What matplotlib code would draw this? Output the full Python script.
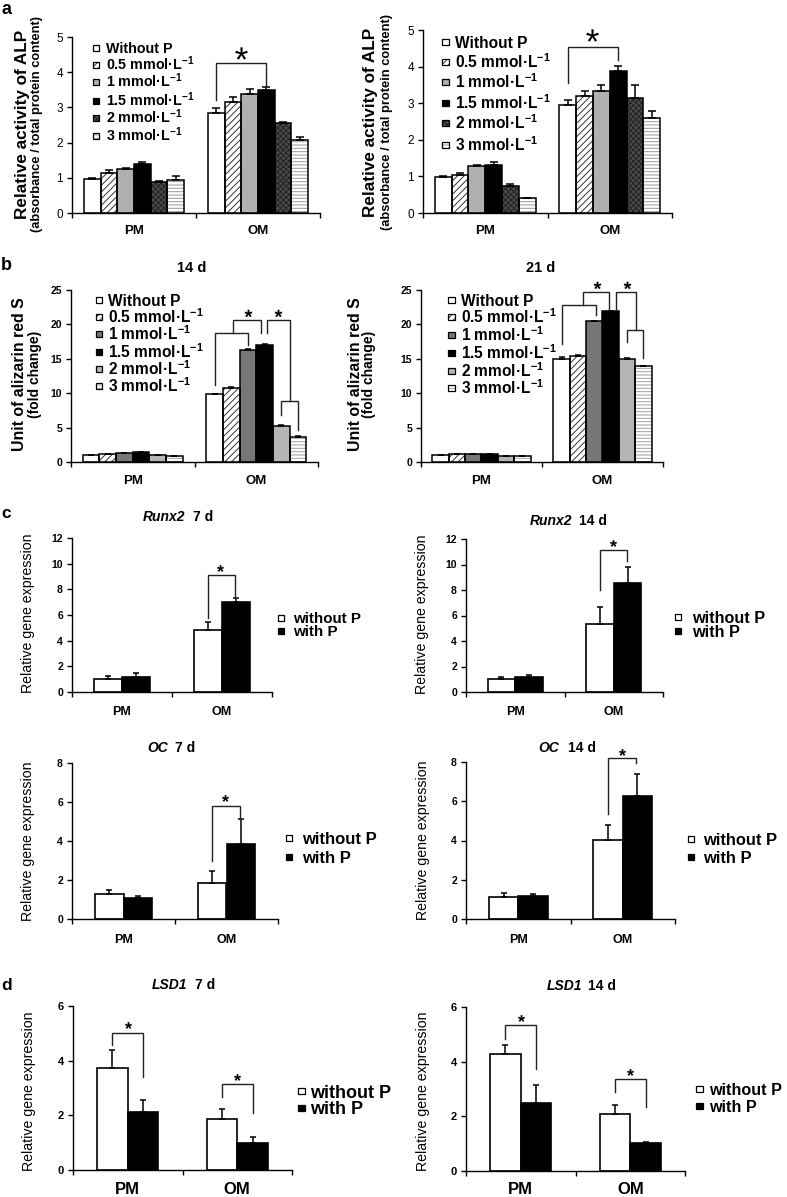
import numpy as np
import matplotlib
matplotlib.use('Agg')
import matplotlib.pyplot as plt
from matplotlib.patches import Rectangle

plt.rcParams['font.family'] = ['Liberation Sans', 'DejaVu Sans']
plt.rcParams['mathtext.fontset'] = 'custom'
plt.rcParams['mathtext.rm'] = 'Liberation Sans'
plt.rcParams['mathtext.it'] = 'Liberation Sans:italic:bold'
plt.rcParams['mathtext.bf'] = 'Liberation Sans:bold'
plt.rcParams['mathtext.default'] = 'bf'
plt.rcParams['hatch.linewidth'] = 0.7

# ------------------------------------------------------------------ data
groups = ['PM', 'OM']
conc_labels = ['Without P', '0.5 mmol·L$^{-1}$', '1 mmol·L$^{-1}$',
               '1.5 mmol·L$^{-1}$', '2 mmol·L$^{-1}$', '3 mmol·L$^{-1}$']
p_labels = ['without P', 'with P']

# (a) relative ALP activity
alp1_pm = [0.98, 1.15, 1.24, 1.39, 0.88, 0.93]
alp1_pm_err = [0.02, 0.08, 0.05, 0.05, 0.02, 0.13]
alp1_om = [2.84, 3.16, 3.38, 3.50, 2.56, 2.06]
alp1_om_err = [0.13, 0.14, 0.13, 0.08, 0.03, 0.11]
alp2_pm = [0.99, 1.05, 1.29, 1.32, 0.74, 0.40]
alp2_pm_err = [0.03, 0.04, 0.03, 0.06, 0.04, 0.0]
alp2_om = [2.95, 3.19, 3.34, 3.87, 3.13, 2.60]
alp2_om_err = [0.15, 0.15, 0.16, 0.16, 0.37, 0.18]

# (b) alizarin red S
ars14_pm = [1.0, 1.2, 1.3, 1.4, 1.0, 0.9]
ars14_pm_err = [0.02, 0.02, 0.02, 0.02, 0.02, 0.02]
ars14_om = [9.9, 10.8, 16.3, 17.0, 5.3, 3.7]
ars14_om_err = [0.05, 0.1, 0.1, 0.1, 0.05, 0.05]
ars21_pm = [1.0, 1.15, 1.15, 1.15, 0.9, 0.8]
ars21_pm_err = [0.05, 0.03, 0.02, 0.02, 0.03, 0.02]
ars21_om = [15.0, 15.4, 20.5, 21.9, 14.9, 13.9]
ars21_om_err = [0.25, 0.1, 0.05, 0.05, 0.2, 0.05]

# (c) Runx2 / OC ; (d) LSD1  -> [PM, OM]
runx7_wo, runx7_wo_err = [1.05, 4.85], [0.20, 0.62]
runx7_w, runx7_w_err = [1.15, 7.00], [0.30, 0.30]
runx14_wo, runx14_wo_err = [1.05, 5.35], [0.12, 1.30]
runx14_w, runx14_w_err = [1.15, 8.55], [0.22, 1.22]
oc7_wo, oc7_wo_err = [1.27, 1.87], [0.20, 0.57]
oc7_w, oc7_w_err = [1.06, 3.85], [0.12, 1.27]
oc14_wo, oc14_wo_err = [1.13, 4.02], [0.22, 0.76]
oc14_w, oc14_w_err = [1.16, 6.25], [0.13, 1.12]
lsd7_wo, lsd7_wo_err = [3.72, 1.85], [0.67, 0.37]
lsd7_w, lsd7_w_err = [2.11, 1.00], [0.45, 0.22]
lsd14_wo, lsd14_wo_err = [4.27, 2.10], [0.33, 0.33]
lsd14_w, lsd14_w_err = [2.50, 1.02], [0.65, 0.04]

# ------------------------------------------------------------------ styles
styles_a = [
    {'fc': 'white'},
    {'fc': 'white', 'hatch': '/////', 'hc': '#333333'},
    {'fc': '#b0b0b0'},
    {'fc': 'black'},
    {'fc': '#4a4a4a', 'hatch': 'xxxxxx', 'hc': '#222222'},
    {'fc': 'white', 'hatch': '-----', 'hc': '#9a9a9a'},
]
styles_b = [
    {'fc': 'white'},
    {'fc': 'white', 'hatch': '/////', 'hc': '#333333'},
    {'fc': '#777777'},
    {'fc': 'black'},
    {'fc': '#b5b5b5'},
    {'fc': 'white', 'hatch': '-----', 'hc': '#a0a0a0'},
]
styles_p = [{'fc': 'white'}, {'fc': 'black'}]

W, H = 787, 1197
fig = plt.figure(figsize=(W / 100, H / 100), dpi=100)


def px_ax(x0, x1, ytop, ybot):
    ax = fig.add_axes([x0 / W, 1 - ybot / H, (x1 - x0) / W, (ybot - ytop) / H])
    ax.patch.set_alpha(0)
    return ax


def base_style(ax, ymax, ystep, tick_fs, tick_weight, lw=1.0):
    ax.set_xlim(0, 2)
    ax.set_ylim(0, ymax)
    for s in ['top', 'right']:
        ax.spines[s].set_visible(False)
    for s in ['left', 'bottom']:
        ax.spines[s].set_linewidth(lw)
    ticks = np.arange(0, ymax + 0.001, ystep)
    ax.set_yticks(ticks)
    ax.set_yticklabels([f'{int(t)}' for t in ticks], fontsize=tick_fs, fontweight=tick_weight)
    ax.set_xticks([0, 1, 2])
    ax.set_xticklabels([])
    ax.tick_params(axis='both', direction='out', length=3.5, width=lw, pad=3)


def group_labels(ax, ytop, ybot, y_px, fs):
    frac = (ybot - y_px) / (ybot - ytop)
    for i, g in enumerate(groups):
        ax.text(i + 0.5, frac, g, transform=ax.get_xaxis_transform(), ha='center',
                va='center', fontsize=fs, fontweight='bold', clip_on=False)


def draw_bar(ax, x, h, w, st, lw=1.1):
    ax.bar(x, h, w, color=st['fc'], edgecolor=st.get('hc', st['fc']),
           hatch=st.get('hatch'), linewidth=0, zorder=2)
    ax.bar(x, h, w, fill=False, edgecolor='black', linewidth=lw, zorder=3)


def errs(ax, x, h, e, cap=3, lw=1.1):
    e = np.asarray(e, dtype=float)
    ax.errorbar(x, h, yerr=[np.zeros(len(e)), e], fmt='none', ecolor='black',
                elinewidth=lw, capsize=cap, capthick=lw, zorder=4)


def bracket(ax, x1, x2, ytop, yl, yr, lw=1.0):
    ax.plot([x1, x1, x2, x2], [yl, ytop, ytop, yr], color='#222222', lw=lw,
            clip_on=False, zorder=5, solid_joinstyle='miter')


def star(ax, x, y, ms, bold=True):
    m = r'$\mathbf{*}$' if bold else r'$\mathrm{*}$'
    ax.plot([x], [y], marker=m, markersize=ms, color='black', markeredgewidth=0,
            linestyle='none', clip_on=False, zorder=6)


def legend_px(items, x_mark, x_text, ys, size, fs):
    for (st, label), y in zip(items, ys):
        xy = (x_mark / W, 1 - (y + size / 2) / H)
        fig.add_artist(Rectangle(xy, size / W, size / H, transform=fig.transFigure,
                                 facecolor=st['fc'], edgecolor=st.get('hc', st['fc']),
                                 hatch=st.get('hatch'), linewidth=0))
        fig.add_artist(Rectangle(xy, size / W, size / H, transform=fig.transFigure,
                                 fill=False, edgecolor='black', linewidth=0.9))
        fpx = fs * 100 / 72
        fig.text(x_text / W, 1 - (y + 0.36 * fpx) / H, label, ha='left',
                 va='baseline', fontsize=fs, fontweight='bold')


def vlabel(x, y, s, fs, weight='bold'):
    fig.text(x / W, 1 - y / H, s, rotation=90, ha='center', va='center',
             fontsize=fs, fontweight=weight)


def gene_title(x_it, it, x_rest, rest, y, fs=10):
    fpx = fs * 100 / 72
    yb = 1 - (y + 0.36 * fpx) / H
    fig.text(x_it / W, yb, it, ha='left', va='baseline', fontsize=fs,
             fontweight='bold', fontstyle='italic')
    fig.text(x_rest / W, yb, rest, ha='left', va='baseline', fontsize=fs,
             fontweight='bold')


def six_bars(ax, pm, pm_e, om, om_e, styles, w=0.135, cap=3):
    for g, (vals, ev) in enumerate([(pm, pm_e), (om, om_e)]):
        xs = g + 0.5 + (np.arange(6) - 2.5) * w
        for i in range(6):
            draw_bar(ax, xs[i], vals[i], w, styles[i])
        errs(ax, xs, vals, ev, cap=cap)


def six_x(g, i, w=0.135):
    return g + 0.5 + (i - 2.5) * w


def pair_bars(ax, wo, wo_e, wi, wi_e, w=0.28):
    x = np.arange(2) + 0.5
    ax.bar(x - w / 2, wo, w, color='white', edgecolor='black', linewidth=1.2, zorder=2)
    ax.bar(x + w / 2, wi, w, color='black', edgecolor='black', linewidth=1.2, zorder=2)
    errs(ax, x - w / 2, wo, wo_e, cap=2.5)
    errs(ax, x + w / 2, wi, wi_e, cap=2.5)


# ------------------------------------------------------------------ panel a
fig.text(1 / W, 1 - 14 / H, 'a', fontsize=13, fontweight='bold', va='baseline')

ax = px_ax(72, 320, 37, 213)
base_style(ax, 5, 1, 8.5, 'normal')
six_bars(ax, alp1_pm, alp1_pm_err, alp1_om, alp1_om_err, styles_a)
bracket(ax, six_x(1, 0), six_x(1, 3), 4.25, 3.2, 3.6)
star(ax, 1.365, 4.55, 9, bold=False)
group_labels(ax, 37, 213, 231, 9.5)
legend_px(list(zip(styles_a, conc_labels)), 93, 106, [48, 65, 82, 101, 118, 136], 6.5, 10.3)
vlabel(23, 124, 'Relative activity of ALP', 12.3)
vlabel(37, 124, '(absorbance / total protein content)', 9.3)

ax = px_ax(423, 672, 30, 213)
base_style(ax, 5, 1, 8.5, 'normal')
six_bars(ax, alp2_pm, alp2_pm_err, alp2_om, alp2_om_err, styles_a)
bracket(ax, six_x(1, 0), six_x(1, 3), 4.53, 3.55, 4.17)
star(ax, 1.36, 4.85, 9, bold=False)
group_labels(ax, 30, 213, 231, 9.5)
legend_px(list(zip(styles_a, conc_labels)), 442, 455, [42, 62, 82, 103, 123, 145], 6.5, 11.2)
vlabel(370, 122, 'Relative activity of ALP', 12.3)
vlabel(387, 122, '(absorbance / total protein content)', 9.3)

# ------------------------------------------------------------------ panel b
fig.text(1 / W, 1 - 270 / H, 'b', fontsize=13, fontweight='bold', va='baseline')
fig.text(192 / W, 1 - 268 / H, '14 d', ha='center', va='center', fontsize=10.5, fontweight='bold')
fig.text(541 / W, 1 - 268 / H, '21 d', ha='center', va='center', fontsize=10.5, fontweight='bold')

ax = px_ax(71, 318, 290, 462)
base_style(ax, 25, 5, 7.5, 'bold')
six_bars(ax, ars14_pm, ars14_pm_err, ars14_om, ars14_om_err, styles_b, cap=2)
bracket(ax, six_x(1, 0), six_x(1, 2), 18.7, 11.2, 17.0)
bracket(ax, 1.31, 1.54, 20.6, 18.7, 18.7)
bracket(ax, 1.583, 1.77, 20.6, 18.7, 8.8)
bracket(ax, six_x(1, 4), six_x(1, 5), 8.8, 6.9, 4.7)
star(ax, 1.43, 21.6, 5.5)
star(ax, 1.675, 21.6, 5.5)
group_labels(ax, 290, 462, 481, 9.5)
legend_px(list(zip(styles_b, conc_labels)), 96, 108, [300, 317, 334, 352, 369, 386], 6.5, 11.2)
vlabel(20, 374, 'Unit of alizarin red S', 11.4)
vlabel(35, 374, '(fold change)', 10)

ax = px_ax(421, 663, 290, 462)
base_style(ax, 25, 5, 7.5, 'bold')
six_bars(ax, ars21_pm, ars21_pm_err, ars21_om, ars21_om_err, styles_b, cap=2)
bracket(ax, six_x(1, 0), 1.45, 22.8, 17.2, 21.4)
bracket(ax, 1.336, 1.556, 24.7, 22.8, 22.1)
bracket(ax, 1.61, 1.775, 24.7, 22.3, 19.2)
bracket(ax, six_x(1, 4), six_x(1, 5), 19.2, 17.5, 15.1)
star(ax, 1.455, 25.7, 5.5)
star(ax, 1.70, 25.7, 5.5)
group_labels(ax, 290, 462, 481, 9.5)
legend_px(list(zip(styles_b, conc_labels)), 448, 461, [300, 317, 335, 353, 371, 388], 6.5, 11.2)
vlabel(355, 374, 'Unit of alizarin red S', 11.4)
vlabel(369, 374, '(fold change)', 10)

# ------------------------------------------------------------------ panel c
fig.text(1 / W, 1 - 518 / H, 'c', fontsize=12.5, fontweight='bold', va='baseline')
p_items = list(zip(styles_p, p_labels))

ax = px_ax(72, 272, 538, 692)
base_style(ax, 12, 2, 7.5, 'bold')
pair_bars(ax, runx7_wo, runx7_wo_err, runx7_w, runx7_w_err)
bracket(ax, 1.36, 1.63, 9.1, 5.77, 7.45)
star(ax, 1.48, 9.7, 5)
group_labels(ax, 538, 692, 712, 9)
gene_title(143, 'Runx2', 193, '7 d', 516)
legend_px(p_items, 278, 293, [618, 631], 6, 10.9)
vlabel(28, 613, 'Relative gene expression', 10.2, 'normal')

ax = px_ax(466, 663, 539, 692)
base_style(ax, 12, 2, 7.5, 'bold')
pair_bars(ax, runx14_wo, runx14_wo_err, runx14_w, runx14_w_err)
bracket(ax, 1.36, 1.63, 11.1, 8.0, 10.3)
star(ax, 1.49, 11.7, 5)
group_labels(ax, 539, 692, 712, 9)
gene_title(530, 'Runx2', 579, '14 d', 520)
legend_px(p_items, 675, 692, [617, 631], 6, 11.7)
vlabel(422, 614, 'Relative gene expression', 10.2, 'normal')

ax = px_ax(72, 278, 763, 919)
base_style(ax, 8, 2, 7.5, 'bold')
pair_bars(ax, oc7_wo, oc7_wo_err, oc7_w, oc7_w_err)
bracket(ax, 1.36, 1.63, 5.8, 2.95, 5.12)
star(ax, 1.49, 6.2, 5)
group_labels(ax, 763, 919, 940, 9)
gene_title(147, 'OC', 175, '7 d', 747)
legend_px(p_items, 286, 302, [838, 857], 6, 12)
vlabel(28, 841, 'Relative gene expression', 10.2, 'normal')

ax = px_ax(466, 675, 762, 919)
base_style(ax, 8, 2, 7.5, 'bold')
pair_bars(ax, oc14_wo, oc14_wo_err, oc14_w, oc14_w_err)
bracket(ax, 1.36, 1.63, 8.22, 5.34, 7.95)
star(ax, 1.49, 8.5, 5)
group_labels(ax, 762, 919, 940, 9)
gene_title(538, 'OC', 568, '14 d', 747)
legend_px(p_items, 688, 703, [839, 857], 6, 11.9)
vlabel(423, 840, 'Relative gene expression', 10.2, 'normal')

# ------------------------------------------------------------------ panel d
fig.text(1 / W, 1 - 990 / H, 'd', fontsize=12.5, fontweight='bold', va='baseline')

ax = px_ax(73, 292, 1006, 1170)
base_style(ax, 6, 2, 8, 'bold')
pair_bars(ax, lsd7_wo, lsd7_wo_err, lsd7_w, lsd7_w_err)
bracket(ax, 0.36, 0.64, 5.02, 4.57, 3.41)
star(ax, 0.5, 5.3, 5)
bracket(ax, 1.36, 1.64, 3.13, 2.68, 2.07)
star(ax, 1.5, 3.4, 5)
group_labels(ax, 1006, 1170, 1189, 12)
gene_title(152, 'LSD1', 195, '7 d', 984)
legend_px(p_items, 298, 310, [1091, 1108], 6.5, 13)
vlabel(29, 1091, 'Relative gene expression', 10.2, 'normal')

ax = px_ax(466, 685, 1007, 1171)
base_style(ax, 6, 2, 8, 'bold')
pair_bars(ax, lsd14_wo, lsd14_wo_err, lsd14_w, lsd14_w_err)
bracket(ax, 0.36, 0.64, 5.33, 4.84, 3.72)
star(ax, 0.5, 5.6, 5)
bracket(ax, 1.36, 1.64, 3.38, 2.89, 2.34)
star(ax, 1.5, 3.62, 5)
group_labels(ax, 1007, 1171, 1189, 12)
gene_title(547, 'LSD1', 588, '14 d', 985)
legend_px(p_items, 696, 709, [1089, 1106], 6.5, 11.6)
vlabel(423, 1091, 'Relative gene expression', 10.2, 'normal')

fig.savefig('out.png', dpi=100)
